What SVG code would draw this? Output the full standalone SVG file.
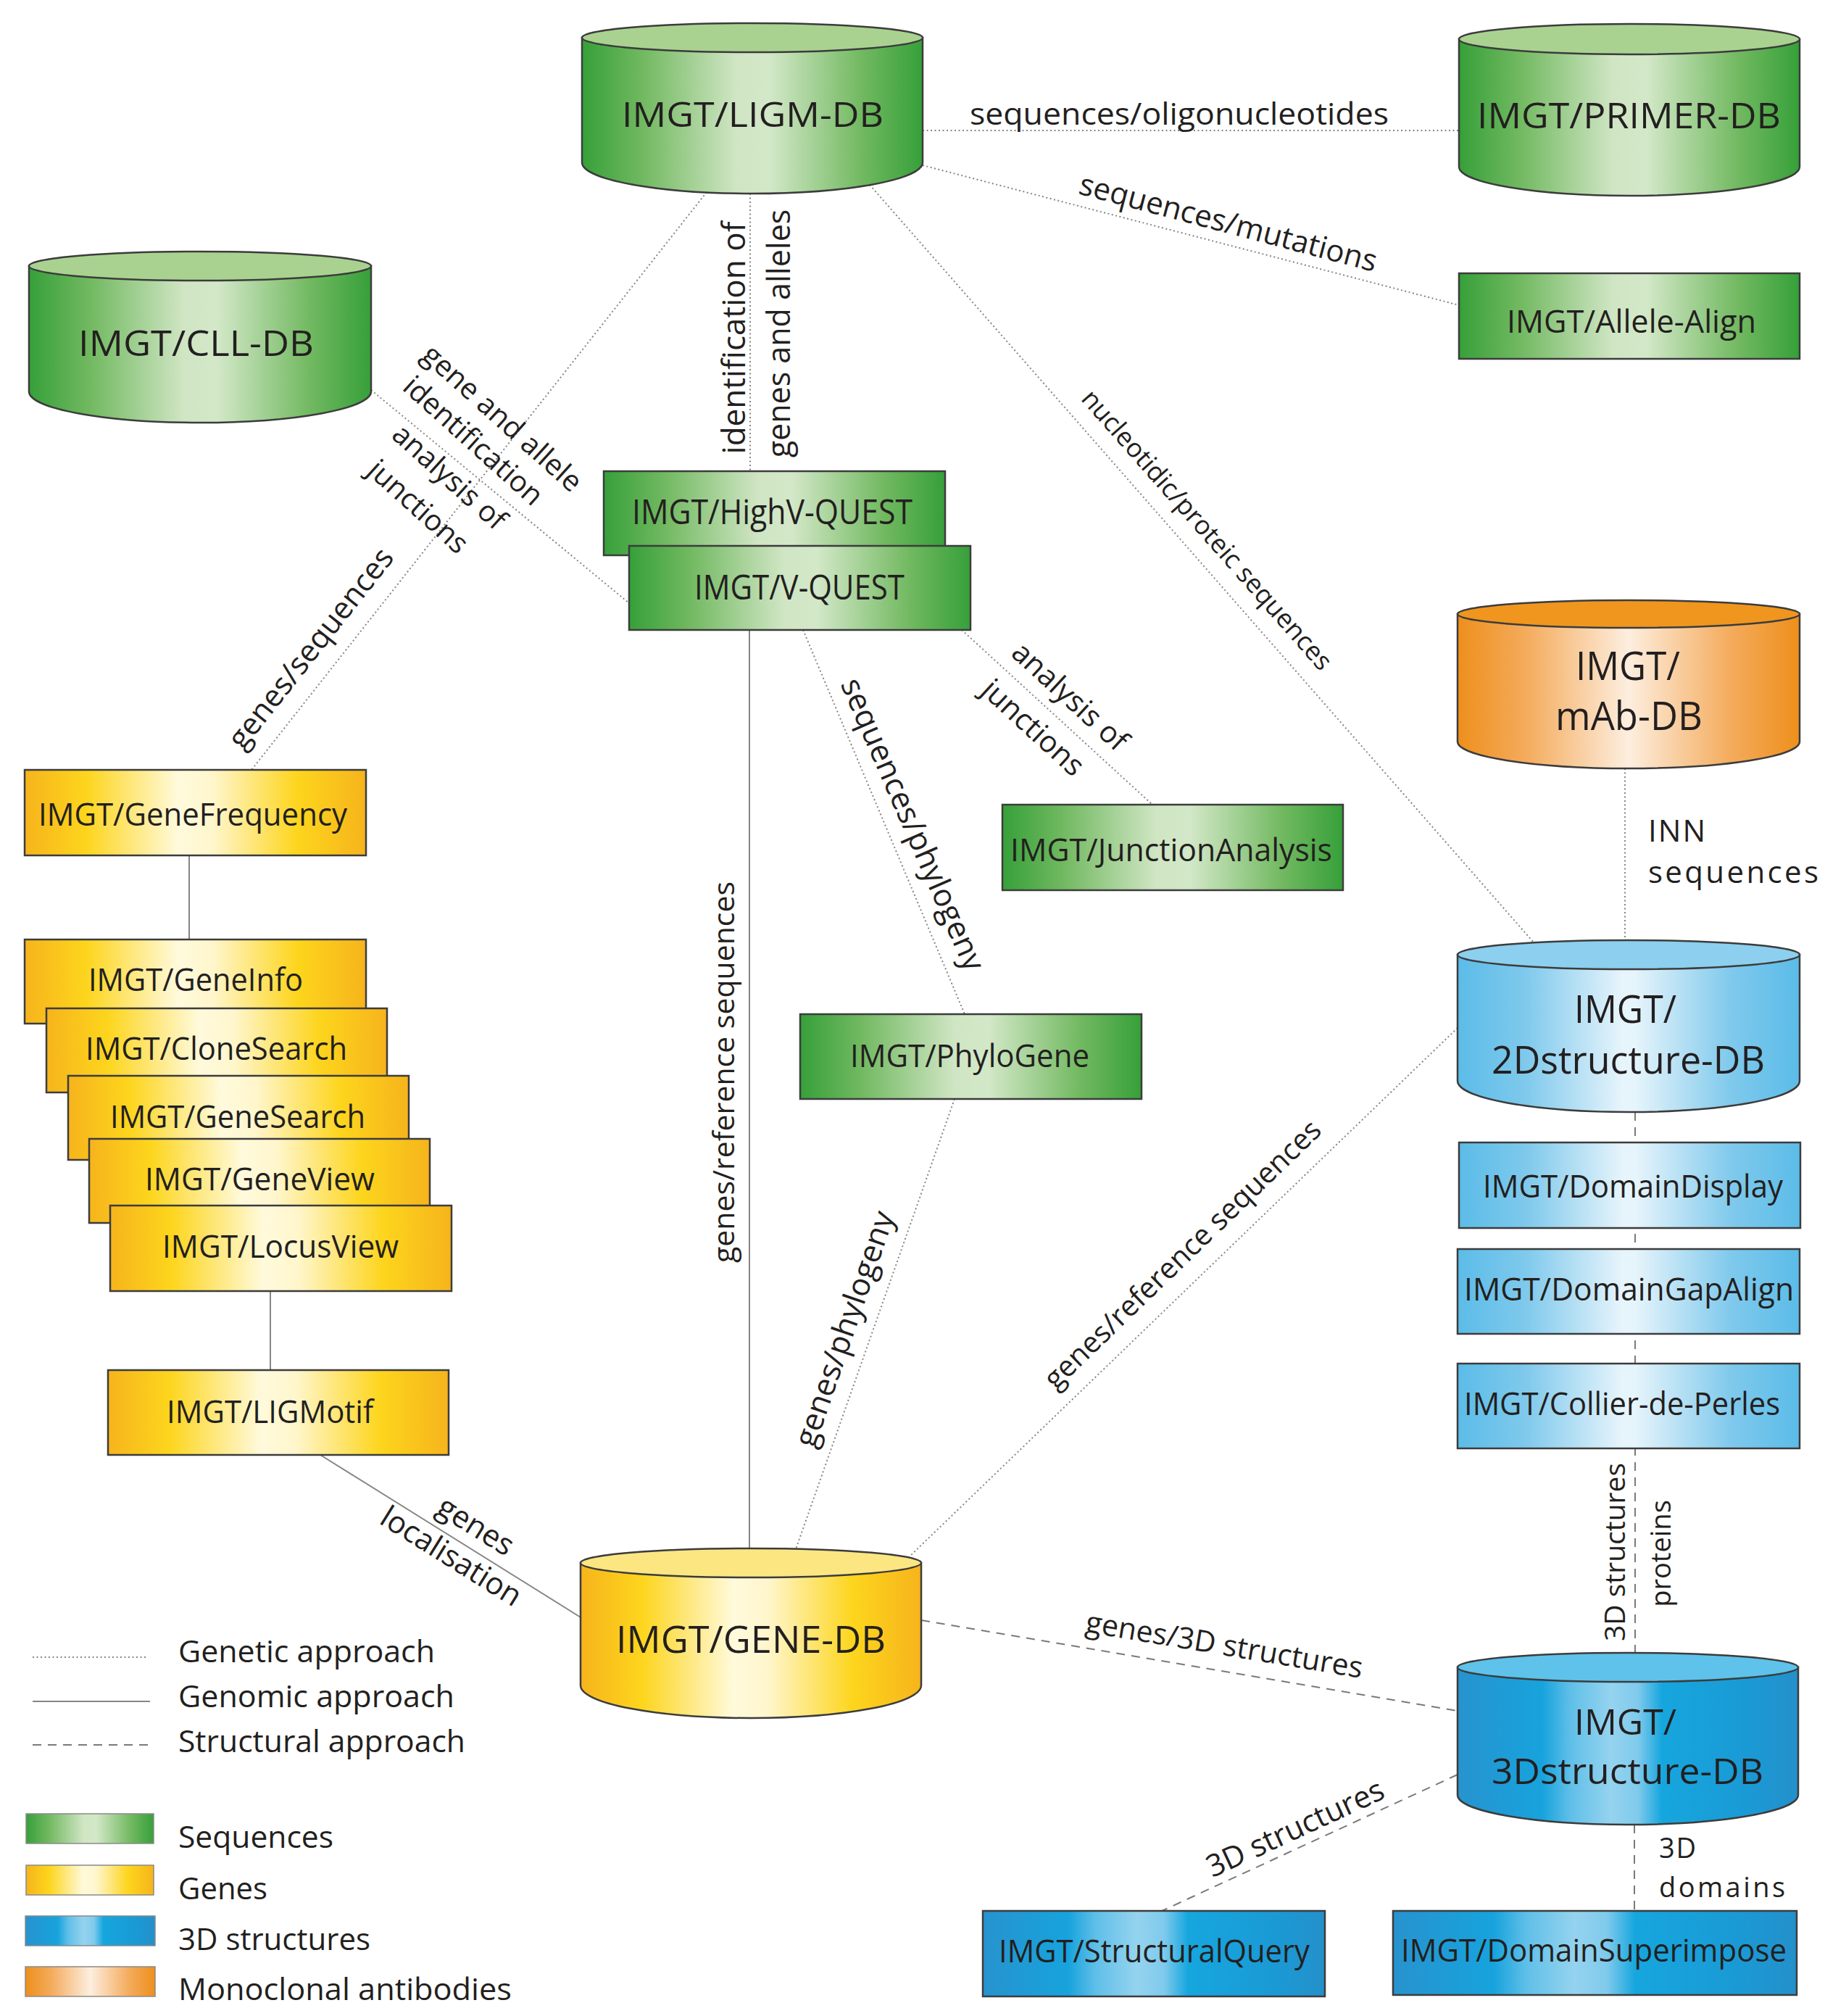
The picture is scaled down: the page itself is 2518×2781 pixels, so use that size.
<svg xmlns="http://www.w3.org/2000/svg" width="2518" height="2781" viewBox="0 0 2518 2781">
<defs>
<linearGradient id="gGreen" x1="0" y1="0" x2="1" y2="0">
<stop offset="0" stop-color="#36a039"/><stop offset="0.18" stop-color="#72b961"/><stop offset="0.45" stop-color="#cfe5c3"/><stop offset="0.55" stop-color="#d3e8c8"/><stop offset="0.82" stop-color="#72b961"/><stop offset="1" stop-color="#36a039"/>
</linearGradient>
<linearGradient id="gYellow" x1="0" y1="0" x2="1" y2="0">
<stop offset="0" stop-color="#f6b41c"/><stop offset="0.18" stop-color="#fdd51d"/><stop offset="0.45" stop-color="#fffadc"/><stop offset="0.55" stop-color="#fff6cc"/><stop offset="0.8" stop-color="#fdd51d"/><stop offset="1" stop-color="#f6b41c"/>
</linearGradient>
<linearGradient id="gLBlue" x1="0" y1="0" x2="1" y2="0">
<stop offset="0" stop-color="#5bbce8"/><stop offset="0.2" stop-color="#7fc9ec"/><stop offset="0.48" stop-color="#e6f4fb"/><stop offset="0.52" stop-color="#e6f4fb"/><stop offset="0.8" stop-color="#7fc9ec"/><stop offset="1" stop-color="#5bbce8"/>
</linearGradient>
<linearGradient id="gDBlue" x1="0" y1="0" x2="1" y2="0">
<stop offset="0" stop-color="#2793ce"/><stop offset="0.25" stop-color="#17a3dd"/><stop offset="0.33" stop-color="#5fbfe8"/><stop offset="0.45" stop-color="#95d3ef"/><stop offset="0.53" stop-color="#7fcaec"/><stop offset="0.6" stop-color="#16a6de"/><stop offset="0.85" stop-color="#1a9ad5"/><stop offset="1" stop-color="#2490ca"/>
</linearGradient>
<linearGradient id="gOrange" x1="0" y1="0" x2="1" y2="0">
<stop offset="0" stop-color="#ee8f1c"/><stop offset="0.2" stop-color="#f4ab5c"/><stop offset="0.5" stop-color="#fdeedf"/><stop offset="0.8" stop-color="#f4ab5c"/><stop offset="1" stop-color="#ee8f1c"/>
</linearGradient>
</defs>
<style>
text { font-family: "Open Sans", "Liberation Sans", sans-serif; fill: #231f20; }
.box { stroke: #3c3c3c; stroke-width: 2.5; }
.cyl { stroke: #3c3c3c; stroke-width: 2.5; }
.genetic { stroke: #858585; stroke-width: 2; stroke-dasharray: 2 3.5; fill: none; }
.genomic { stroke: #858585; stroke-width: 2; fill: none; }
.structural { stroke: #7a7a7a; stroke-width: 2; stroke-dasharray: 12 9; fill: none; }
.green { fill: url(#gGreen); }
.yellow { fill: url(#gYellow); }
.lblue { fill: url(#gLBlue); }
.dblue { fill: url(#gDBlue); }
.orange { fill: url(#gOrange); }
.topG { fill: #a9d290; }
.topY { fill: #fbe682; }
.topL { fill: #8ccfee; }
.topD { fill: #5ec2ea; }
.topO { fill: #f0961e; }
.nl { font-size: 43px; }
.el { font-size: 42px; }
.lg { font-size: 42px; }
</style>
<rect x="0" y="0" width="2518" height="2781" fill="#ffffff"/>

<g id="connectors">
<line class="genetic" x1="1273" y1="180" x2="2013" y2="180"/>
<line class="genetic" x1="1273" y1="228" x2="2013" y2="421"/>
<line class="genetic" x1="1200" y1="255" x2="2116" y2="1300"/>
<line class="genetic" x1="1035" y1="267" x2="1035" y2="650" stroke="#555"/>
<line class="genetic" x1="975" y1="265" x2="347" y2="1062"/>
<line class="genetic" x1="512" y1="538" x2="868" y2="832"/>
<line class="genetic" x1="1327" y1="869" x2="1590" y2="1110"/>
<line class="genetic" x1="1108" y1="869" x2="1331" y2="1399"/>
<line class="genetic" x1="1317" y1="1516" x2="1098" y2="2137"/>
<line class="genetic" x1="2011" y1="1418" x2="1256" y2="2146"/>
<line class="genetic" x1="2242" y1="1060" x2="2242" y2="1297"/>
<line class="genomic" x1="1034" y1="869" x2="1034" y2="2136"/>
<line class="genomic" x1="261" y1="1180" x2="261" y2="1296"/>
<line class="genomic" x1="373" y1="1781" x2="373" y2="1890"/>
<line class="genomic" x1="442" y1="2007" x2="801" y2="2231"/>
<line class="structural" x1="1271" y1="2235" x2="2011" y2="2360"/>
<line class="structural" x1="2011" y1="2448" x2="1603" y2="2636"/>
<line class="structural" x1="2255" y1="2517" x2="2255" y2="2636"/>
<line class="structural" x1="2256" y1="1534" x2="2256" y2="2280"/>
</g>

<g id="node-ligm-db">
<path class="cyl green" d="M803,52 L803,224 A235,43 0 0 0 1273,224 L1273,52 Z"/>
<ellipse class="cyl topG" cx="1038" cy="52" rx="235" ry="20"/>
<text x="858" y="175" font-size="48" textLength="361" lengthAdjust="spacingAndGlyphs">IMGT/LIGM-DB</text>
</g>
<g id="node-primer-db">
<path class="cyl green" d="M2013,54 L2013,230 A235,40 0 0 0 2483,230 L2483,54 Z"/>
<ellipse class="cyl topG" cx="2248" cy="54" rx="235" ry="21"/>
<text x="2038" y="177" font-size="50" textLength="419" lengthAdjust="spacingAndGlyphs">IMGT/PRIMER-DB</text>
</g>
<g id="node-cll-db">
<path class="cyl green" d="M40,367 L40,540 A236,43 0 0 0 512,540 L512,367 Z"/>
<ellipse class="cyl topG" cx="276" cy="367" rx="236" ry="20"/>
<text x="108" y="491" font-size="50" textLength="325" lengthAdjust="spacingAndGlyphs">IMGT/CLL-DB</text>
</g>
<g id="node-allele-align">
<rect class="box green" x="2013" y="377" width="470" height="118"/>
<text class="nl" x="2079" y="459" textLength="344" lengthAdjust="spacingAndGlyphs">IMGT/Allele-Align</text>
</g>
<g id="node-highv-quest">
<rect class="box green" x="833" y="650" width="471" height="116"/>
<text x="872" y="723" font-size="47" textLength="387" lengthAdjust="spacingAndGlyphs">IMGT/HighV-QUEST</text>
</g>
<g id="node-v-quest">
<rect class="box green" x="868" y="753" width="471" height="116"/>
<text x="958" y="827" font-size="47" textLength="290" lengthAdjust="spacingAndGlyphs">IMGT/V-QUEST</text>
</g>
<g id="node-junctionanalysis">
<rect class="box green" x="1383" y="1110" width="470" height="118"/>
<text class="nl" x="1394" y="1188" textLength="444" lengthAdjust="spacingAndGlyphs">IMGT/JunctionAnalysis</text>
</g>
<g id="node-phylogene">
<rect class="box green" x="1104" y="1399" width="471" height="117"/>
<text class="nl" x="1173" y="1472" textLength="330" lengthAdjust="spacingAndGlyphs">IMGT/PhyloGene</text>
</g>
<g id="node-mab-db">
<path class="cyl orange" d="M2011,847 L2011,1023 A236,37 0 0 0 2483,1023 L2483,847 Z"/>
<ellipse class="cyl topO" cx="2247" cy="847" rx="236" ry="19"/>
<text x="2174" y="938" font-size="54" textLength="144" lengthAdjust="spacingAndGlyphs">IMGT/</text>
<text x="2146" y="1007" font-size="54" textLength="203" lengthAdjust="spacingAndGlyphs">mAb-DB</text>
</g>
<g id="node-2dstructure-db">
<path class="cyl lblue" d="M2011,1317 L2011,1491 A236,43 0 0 0 2483,1491 L2483,1317 Z"/>
<ellipse class="cyl topL" cx="2247" cy="1317" rx="236" ry="20"/>
<text x="2172" y="1411" font-size="53" textLength="141" lengthAdjust="spacingAndGlyphs">IMGT/</text>
<text x="2058" y="1481" font-size="53" textLength="377" lengthAdjust="spacingAndGlyphs">2Dstructure-DB</text>
</g>
<g id="node-domaindisplay">
<rect class="box lblue" x="2013" y="1576" width="471" height="118"/>
<text x="2046" y="1652" font-size="44" textLength="414" lengthAdjust="spacingAndGlyphs">IMGT/DomainDisplay</text>
</g>
<g id="node-domaingapalign">
<rect class="box lblue" x="2011" y="1723" width="472" height="117"/>
<text x="2020" y="1794" font-size="44" textLength="455" lengthAdjust="spacingAndGlyphs">IMGT/DomainGapAlign</text>
</g>
<g id="node-collier-de-perles">
<rect class="box lblue" x="2011" y="1881" width="472" height="117"/>
<text x="2020" y="1952" font-size="44" textLength="436" lengthAdjust="spacingAndGlyphs">IMGT/Collier-de-Perles</text>
</g>
<g id="node-3dstructure-db">
<path class="cyl dblue" d="M2011,2300 L2011,2476 A235,41 0 0 0 2481,2476 L2481,2300 Z"/>
<ellipse class="cyl topD" cx="2246" cy="2300" rx="235" ry="20"/>
<text x="2172" y="2393" font-size="49" textLength="141" lengthAdjust="spacingAndGlyphs">IMGT/</text>
<text x="2058" y="2461" font-size="49" textLength="375" lengthAdjust="spacingAndGlyphs">3Dstructure-DB</text>
</g>
<g id="node-structuralquery">
<rect class="box dblue" x="1356" y="2636" width="472" height="118"/>
<text x="1378" y="2707" font-size="44" textLength="429" lengthAdjust="spacingAndGlyphs">IMGT/StructuralQuery</text>
</g>
<g id="node-domainsuperimpose">
<rect class="box dblue" x="1922" y="2636" width="557" height="116"/>
<text x="1933" y="2706" font-size="44" textLength="532" lengthAdjust="spacingAndGlyphs">IMGT/DomainSuperimpose</text>
</g>
<g id="node-gene-db">
<path class="cyl yellow" d="M801,2156 L801,2325 A235,45 0 0 0 1271,2325 L1271,2156 Z"/>
<ellipse class="cyl topY" cx="1036" cy="2156" rx="235" ry="20"/>
<text x="850" y="2280" font-size="52" textLength="372" lengthAdjust="spacingAndGlyphs">IMGT/GENE-DB</text>
</g>
<g id="node-genefrequency">
<rect class="box yellow" x="34" y="1062" width="471" height="118"/>
<text class="nl" x="53" y="1139" textLength="426" lengthAdjust="spacingAndGlyphs">IMGT/GeneFrequency</text>
</g>
<g id="node-geneinfo">
<rect class="box yellow" x="34" y="1296" width="471" height="116"/>
<text class="nl" x="122" y="1367" textLength="296" lengthAdjust="spacingAndGlyphs">IMGT/GeneInfo</text>
</g>
<g id="node-clonesearch">
<rect class="box yellow" x="64" y="1391" width="470" height="116"/>
<text class="nl" x="118" y="1462" textLength="361" lengthAdjust="spacingAndGlyphs">IMGT/CloneSearch</text>
</g>
<g id="node-genesearch">
<rect class="box yellow" x="94" y="1484" width="470" height="116"/>
<text class="nl" x="152" y="1556" textLength="352" lengthAdjust="spacingAndGlyphs">IMGT/GeneSearch</text>
</g>
<g id="node-geneview">
<rect class="box yellow" x="123" y="1571" width="470" height="116"/>
<text class="nl" x="200" y="1642" textLength="317" lengthAdjust="spacingAndGlyphs">IMGT/GeneView</text>
</g>
<g id="node-locusview">
<rect class="box yellow" x="152" y="1663" width="471" height="118"/>
<text class="nl" x="224" y="1735" textLength="326" lengthAdjust="spacingAndGlyphs">IMGT/LocusView</text>
</g>
<g id="node-ligmotif">
<rect class="box yellow" x="149" y="1890" width="470" height="117"/>
<text class="nl" x="230" y="1963" textLength="285" lengthAdjust="spacingAndGlyphs">IMGT/LIGMotif</text>
</g>

<g id="connector-labels">
<text class="el" x="1338" y="172" textLength="578" lengthAdjust="spacingAndGlyphs">sequences/oligonucleotides</text>
<text class="el" text-anchor="middle" transform="translate(1691,321) rotate(14.8)">sequences/mutations</text>
<text text-anchor="middle" font-size="36" transform="translate(1656,739) rotate(48.6)">nucleotidic/proteic sequences</text>
<text text-anchor="middle" font-size="44" transform="translate(1028,466) rotate(-90)">identification of</text>
<text text-anchor="middle" font-size="43" transform="translate(1090,460) rotate(-90)">genes and alleles</text>
<text text-anchor="middle" font-size="40" transform="translate(684,587) rotate(42)">gene and allele</text>
<text text-anchor="middle" font-size="40" transform="translate(644,618) rotate(42)">identification</text>
<text text-anchor="middle" font-size="40" transform="translate(611,668) rotate(42)">analysis of</text>
<text text-anchor="middle" font-size="40" transform="translate(568,709) rotate(42)">junctions</text>
<text class="el" text-anchor="middle" transform="translate(440,903) rotate(-51.7)">genes/sequences</text>
<text text-anchor="middle" font-size="41" transform="translate(1467,971) rotate(42.5)">analysis of</text>
<text text-anchor="middle" font-size="41" transform="translate(1416,1014) rotate(42.5)">junctions</text>
<text text-anchor="middle" font-size="43" transform="translate(1246,1143) rotate(66.5)">sequences/phylogeny</text>
<text text-anchor="middle" font-size="43" transform="translate(1179,1838) rotate(-71)">genes/phylogeny</text>
<text text-anchor="middle" font-size="41" transform="translate(1013,1479) rotate(-90)">genes/reference sequences</text>
<text text-anchor="middle" font-size="40" transform="translate(1641,1740) rotate(-44)">genes/reference sequences</text>
<text class="el" text-anchor="middle" transform="translate(649,2117) rotate(32)">genes</text>
<text class="el" text-anchor="middle" transform="translate(615,2159) rotate(32)">localisation</text>
<text text-anchor="middle" font-size="41" transform="translate(1687,2283) rotate(9.5)">genes/3D structures</text>
<text class="el" text-anchor="middle" transform="translate(1793,2535) rotate(-24.8)">3D structures</text>
<text text-anchor="middle" font-size="39" transform="translate(2242,2141) rotate(-90)">3D structures</text>
<text text-anchor="middle" font-size="38" transform="translate(2305,2143) rotate(-90)">proteins</text>
<text class="el" x="2274" y="1161" textLength="79" lengthAdjust="spacing">INN</text>
<text class="el" x="2274" y="1218" textLength="235" lengthAdjust="spacing">sequences</text>
<text x="2289" y="2563" font-size="38" textLength="51" lengthAdjust="spacing">3D</text>
<text x="2289" y="2617" font-size="38" textLength="174" lengthAdjust="spacing">domains</text>
</g>

<g id="legend">
<line class="genetic" x1="45" y1="2286" x2="201" y2="2286"/>
<line class="genomic" x1="45" y1="2347" x2="207" y2="2347"/>
<line class="structural" x1="45" y1="2407" x2="210" y2="2407"/>
<text class="lg" x="246" y="2293" textLength="354" lengthAdjust="spacingAndGlyphs">Genetic approach</text>
<text class="lg" x="246" y="2355" textLength="381" lengthAdjust="spacingAndGlyphs">Genomic approach</text>
<text class="lg" x="246" y="2417" textLength="396" lengthAdjust="spacingAndGlyphs">Structural approach</text>
<rect class="green" x="36" y="2502" width="176" height="41" stroke="#8a8a8a" stroke-width="1.5"/>
<rect class="yellow" x="36" y="2573" width="176" height="41" stroke="#8a8a8a" stroke-width="1.5"/>
<rect class="dblue" x="35" y="2643" width="179" height="41" stroke="#8a8a8a" stroke-width="1.5"/>
<rect class="orange" x="35" y="2713" width="179" height="41" stroke="#8a8a8a" stroke-width="1.5"/>
<text class="lg" x="246" y="2549" textLength="214" lengthAdjust="spacingAndGlyphs">Sequences</text>
<text class="lg" x="246" y="2620" textLength="123" lengthAdjust="spacingAndGlyphs">Genes</text>
<text class="lg" x="246" y="2690" textLength="265" lengthAdjust="spacingAndGlyphs">3D structures</text>
<text class="lg" x="246" y="2759" textLength="460" lengthAdjust="spacingAndGlyphs">Monoclonal antibodies</text>
</g>
</svg>
